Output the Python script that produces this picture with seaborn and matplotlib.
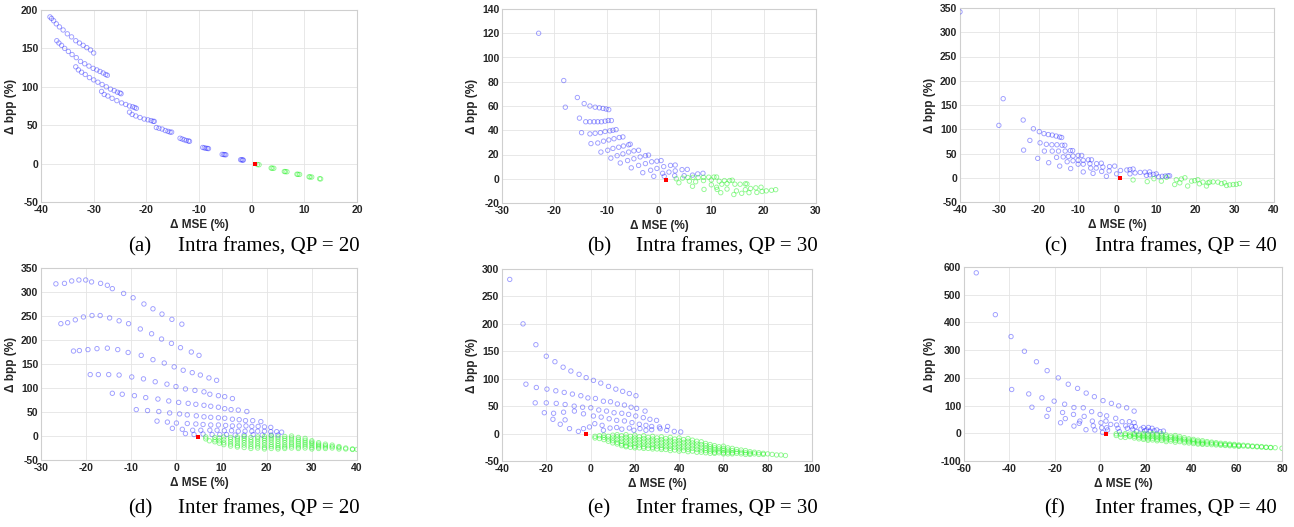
import matplotlib
matplotlib.use("Agg")
import matplotlib.pyplot as plt
import seaborn as sns

# ---- (a) Intra frames, QP = 20 ----
a_blue_x = [-38.3, -38.0, -37.6, -37.1, -36.5, -35.8, -35.0, -34.2, -33.4, -32.7, -32.0, -31.3, -30.6, -30.0,
            -37.0, -36.6, -36.1, -35.5, -34.8, -34.1, -33.3, -32.5, -31.7, -30.9, -30.1, -29.4, -28.8, -28.2, -27.7, -27.4,
            -33.4, -32.9, -32.3, -31.6, -30.8, -30.0, -29.2, -28.4, -27.6, -26.8, -26.1, -25.5, -25.0, -24.8,
            -28.5, -28.0, -27.3, -26.5, -25.6, -24.7, -23.9, -23.2, -22.6, -22.2, -21.9,
            -23.2, -22.7, -22.0, -21.2, -20.4, -19.7, -19.1, -18.7, -18.5,
            -18.1, -17.6, -17.0, -16.4, -15.9, -15.5, -15.2,
            -13.6, -13.2, -12.8, -12.4, -12.0, -11.8,
            -9.3, -9.0, -8.7, -8.4, -8.2,
            -5.6, -5.3, -5.1, -4.9,
            -2.1, -1.9, -1.7, -1.6]
a_blue_y = [191, 189, 186, 182, 178, 174, 169, 165, 160, 157, 154, 151, 148, 144,
            160, 157, 154, 150, 146, 142, 138, 133, 130, 127, 124, 122, 120, 118, 116, 115,
            126, 122, 119, 116, 112, 109, 106, 103, 100, 97, 95, 93, 92, 91,
            94, 90, 88, 85, 82, 79, 77, 75, 74, 73, 72,
            67, 64, 62, 60, 58, 57, 56, 55, 55,
            47, 46, 45, 43, 42, 41, 41,
            33, 32, 31, 30, 29.5, 29,
            21, 20.5, 20, 19.8, 19.5,
            12, 11.8, 11.6, 11.5,
            5, 4.9, 4.7, 4.6]
a_green_x = [1.1, 1.4, 3.7, 3.9, 4.2, 6.2, 6.4, 6.7, 8.6, 8.8, 9.1, 10.9, 11.1, 11.4, 12.9, 13.1]
a_green_y = [-1.3, -1.5, -5.8, -6.0, -6.1, -10.3, -10.5, -10.6, -13.8, -14.0, -14.1, -17.2, -17.4, -17.5, -19.7, -19.9]
a_red = (0.6, -1.0)

# ---- (b) Intra frames, QP = 30 ----
b_blue_x = [-23.0, -18.2, -17.9, -15.6, -15.2, -14.8,
            -14.3, -13.2, -12.2, -11.4, -10.7, -10.1, -9.6,
            -14.0, -13.2, -12.4, -11.7, -11.0, -10.3, -9.7, -9.1,
            -13.2, -12.2, -11.2, -10.3, -9.4, -8.8, -8.2,
            -13.0, -11.7, -10.6, -9.6, -8.6, -7.6, -6.9,
            -11.1, -9.8, -8.8, -7.7, -6.8, -5.8, -5.5,
            -9.2, -8.0, -6.9, -5.8, -4.8, -3.9,
            -7.4, -6.0, -4.8, -3.6, -2.6, -2.0,
            -5.3, -3.9, -2.6, -1.4, -0.4, 0.4,
            -3.1, -1.6, -0.4, 0.9, 2.2, 3.1,
            -1.0, 0.7, 1.9, 3.1, 4.4, 5.4,
            1.0, 3.0, 4.8, 6.4, 7.4, 8.4]
b_blue_y = [120, 81, 59, 67, 50, 38,
            62, 60, 59, 58.5, 58, 57.5, 57,
            47, 47, 47, 47, 47, 47.5, 48, 48,
            37, 37.5, 38, 39, 39.5, 40, 40.5,
            29, 29.5, 31, 32, 33, 34, 34.5,
            22, 23.5, 25, 26, 27, 28, 28.5,
            17, 19, 20.5, 22, 23, 23.5,
            13, 15, 16.5, 18, 19, 19.5,
            9, 11, 12.5, 14, 14.5, 15,
            5, 7, 8.5, 10, 11, 11.3,
            2, 4.5, 5.5, 6.5, 7.5, 7.7,
            2, 2.5, 2.5, 3, 4, 4.5]
b_green_x = [3.3, 4.5, 5.5, 6.5, 7.5, 8.5, 9.5, 10.5, 11.0,
             3.8, 5.8, 7.0, 8.5, 10.0, 11.5, 12.5, 13.5, 14.0,
             6.4, 8.6, 10.0, 11.0, 12.0, 13.0, 14.5, 15.5, 16.5, 16.8,
             11.1, 11.8, 13.0, 14.3, 14.8, 15.8, 16.5, 17.5, 18.5, 19.5,
             17.2, 18.7, 19.7, 20.5, 21.5, 22.3]
b_green_y = [0, 0.5, 1, 1.2, 1, 1.2, 1.3, 1.4, 1.4,
             -3.3, -2, -2.5, -1.5, -1, -2, -1.5, -1.5, -1.2,
             -6.2, -8.8, -5, -7, -4.5, -4, -4.5, -4.5, -4.2, -4.3,
             -8.8, -11.5, -8.5, -13, -10, -12, -9, -8, -7.5, -7,
             -11.5, -11.3, -10.5, -10, -9.5, -9]
b_red = (1.3, -0.8)

# ---- (c) Intra frames, QP = 40 ----
c_blue_x = [-40.0, -29.0, -30.1, -23.9, -23.8, -21.3, -22.2, -20.2, -17.4, -14.6, -11.8, -8.6, -6.1, -2.7, -0.1,
            -19.8, -18.6, -17.5, -16.5, -15.5, -14.6, -14.1,
            -19.6, -18.0, -16.6, -15.3, -14.0, -13.3,
            -18.5, -16.5, -14.9, -13.2, -11.9, -11.3,
            -15.4, -13.7, -12.4, -11.2, -9.9, -9.0,
            -12.7, -11.2, -9.9, -8.6, -7.3, -6.5,
            -9.9, -8.6, -6.9, -5.2, -4.0,
            -6.7, -5.3, -3.6, -1.9, -0.6,
            -3.9, -2.0, 0.9, 2.5, 3.3, 4.1,
            3.3, 4.6, 5.9, 7.1, 8.3,
            7.5, 8.4, 9.3, 10.0,
            10.6, 11.5, 12.3, 13.0, 13.4]
c_blue_y = [342, 163, 108, 119, 57, 101, 77, 40, 31, 24, 19, 12, 9, 3, 8,
            95, 91, 89, 88, 86, 84, 83,
            72, 69, 68, 68, 67, 67,
            55, 55, 55, 55, 56, 56,
            42, 43, 44, 45, 46, 46,
            33, 35, 36, 36, 37, 37,
            28, 28, 29, 29, 30,
            20, 20, 22, 23, 24,
            13, 14, 15, 16, 17, 18,
            8, 10, 11, 11.5, 12,
            5, 6, 7, 8,
            2, 3, 3.5, 4, 4]
c_green_x = [4.1, 7.7, 9.4, 11.3, 12.6, 14.7, 15.1, 16.0, 16.4, 17.3, 18.0, 19.0, 19.8, 20.6, 21.0, 21.9,
             22.8, 23.2, 23.6, 24.5, 25.7, 26.6, 27.4, 27.9, 28.7, 29.6, 30.4, 31.2]
c_green_y = [-4.5, -8, -2, -7, 1, -14, -4, -10.5, -2.5, 0, -17, -7, -6, -4, -12.5, -9,
             -17, -10.5, -9, -8.5, -9, -12, -10.5, -16, -14.7, -14, -13.5, -12]
c_red = (0.8, -1.0)

# ---- (d) Inter frames, QP = 20 ----
d_blue_x = [-26.7, -24.8, -23.2, -21.6, -20.1, -18.8, -16.8, -15.3, -14.2, -11.7, -9.6, -7.2, -5.2, -3.2, -1.0, 1.2,
            -25.6, -24.1, -22.4, -20.6, -18.7, -16.9, -14.8, -12.7, -10.6, -8.0, -5.5, -3.3, -1.1, 0.9, 3.3, 5.0,
            -22.8, -21.5, -19.6, -17.6, -15.3, -13.0, -10.7, -7.8, -5.2, -2.7, -0.5, 1.5, 3.5, 5.3, 7.2, 8.9,
            -19.1, -17.3, -15.0, -12.7, -9.9, -7.3, -4.7, -2.1, -0.1, 2.0, 4.1, 6.1, 7.4, 9.3, 10.7, 12.4,
            -14.2, -12.0, -9.3, -6.8, -4.1, -1.7, 0.5, 2.6, 4.3, 6.1, 7.6, 9.3, 10.7, 12.1, 13.7, 15.6,
            -8.9, -6.4, -3.9, -1.5, 0.7, 2.4, 4.4, 6.1, 7.6, 9.3, 10.7, 12.4, 13.9, 15.3, 16.9, 18.7,
            -4.3, -2.0, 0.0, 2.4, 4.3, 5.9, 7.6, 9.3, 10.9, 12.4, 13.9, 15.4, 16.7, 18.1, 19.5, 20.9,
            -0.9, 1.3, 3.6, 5.4, 7.4, 9.0, 10.6, 12.2, 13.7, 15.2, 16.7, 18.0, 19.5, 20.9, 22.2, 23.3,
            2.0, 3.9, 5.9, 7.9, 9.6, 11.1, 13.0, 15.0, 17.0, 19.0, 21.0, 22.5]
d_blue_y = [317, 318, 323, 325, 325, 321, 318, 314, 307, 297, 288, 275, 265, 254, 243, 233,
            234, 236, 242, 248, 251, 251, 246, 240, 234, 223, 213, 202, 193, 184, 175, 168,
            177, 178, 180, 182, 183, 180, 174, 168, 159, 152, 144, 137, 132, 127, 121, 116,
            128, 128, 128, 127, 123, 119, 113, 108, 103, 98, 95, 92, 87, 84, 82, 78,
            89, 87, 84, 80, 77, 73, 70, 68, 66, 64, 62, 60, 57, 55, 54, 51,
            55, 53, 51, 48, 46, 44, 42, 40, 39, 38, 37, 35, 34, 32, 32, 30,
            31, 29, 27, 26, 25, 24, 23, 23, 22, 21, 21, 21, 20, 20, 19, 18,
            16, 14, 12, 12, 12, 12, 11, 11, 10, 10, 10, 10, 10, 9, 9, 8,
            5, 3, 4, 3, 3, 3, 2, 2, 3, 2, 2, 2]
d_green_x = [6.5, 6.5, 7.3, 8.5, 8.5, 8.5, 9.5, 9.5, 9.5, 10.5, 10.5, 10.5, 10.5,
             12.0, 12.0, 12.0, 12.0, 12.0, 13.5, 13.5, 13.5, 13.5, 13.5, 13.5,
             15.0, 15.0, 15.0, 15.0, 15.0, 15.0, 16.5, 16.5, 16.5, 16.5, 16.5, 16.5,
             18.0, 18.0, 18.0, 18.0, 18.0, 18.0, 19.5, 19.5, 19.5, 19.5, 19.5, 19.5, 19.5,
             21.0, 21.0, 21.0, 21.0, 21.0, 21.0, 21.0, 22.5, 22.5, 22.5, 22.5, 22.5, 22.5, 22.5,
             24.0, 24.0, 24.0, 24.0, 24.0, 24.0, 24.0, 25.5, 25.5, 25.5, 25.5, 25.5, 25.5, 25.5,
             27.0, 27.0, 27.0, 27.0, 27.0, 27.0, 27.0, 28.5, 28.5, 28.5, 28.5, 28.5, 28.5,
             30.0, 30.0, 30.0, 30.0, 30.0, 30.0, 31.5, 31.5, 31.5, 31.5, 31.5,
             33.0, 33.0, 33.0, 33.0, 34.5, 34.5, 34.5, 36.0, 36.0, 36.0, 37.5, 37.5, 39.0, 39.0, 40.0]
d_green_y = [-2, -6, -10, -3, -8, -12, -4, -10, -15, -2, -8, -14, -18,
             -3, -7, -12, -17, -21, -2, -6, -10, -15, -20, -23,
             -1, -5, -9, -14, -19, -24, -3, -8, -12, -17, -22, -26,
             -2, -6, -11, -16, -21, -25, -1, -5, -9, -14, -19, -24, -27,
             0, -4, -8, -13, -18, -22, -26, -2, -6, -11, -16, -20, -24, -27,
             -1, -5, -9, -14, -19, -23, -26, 0, -4, -8, -13, -17, -21, -25,
             -3, -7, -11, -15, -19, -23, -26, -5, -9, -13, -17, -21, -25,
             -10, -13, -16, -20, -24, -27, -14, -17, -20, -23, -26,
             -17, -20, -23, -26, -19, -22, -25, -22, -24, -27, -25, -27, -27, -28, -28]
d_red = (4.8, -2.5)

# ---- (e) Inter frames, QP = 30 ----
e_blue_x = [-36.5, -30.5,
            -24.7, -20.0, -16.1, -12.4, -8.9, -5.2, -2.0, 1.3, 4.6, 8.1, 11.4, 14.5, 17.5, 20.5,
            -29.2, -24.5, -19.7, -15.7, -11.9, -8.2, -4.4, -1.2, 2.2, 5.8, 9.0, 12.1, 15.3, 18.3, 20.8, 24.6,
            -25.0, -20.0, -15.5, -11.5, -7.4, -3.6, 0.1, 3.7, 7.2, 10.6, 14.1, 17.2, 20.4, 23.8, 26.8, 29.8,
            -20.9, -16.7, -12.2, -7.3, -3.2, 1.3, 4.8, 8.4, 11.8, 15.3, 18.7, 22.0, 25.0, 27.6, 31.1, 34.8,
            -17.0, -13.7, -11.5, -9.5, -5.5, -3.2, -0.5, 1.9, 5.2, 5.8, 8.8, 11.8, 14.1, 17.5, 19.6, 22.3,
            25.0, 27.6, 31.4, 34.4, 37.8, 40.7]
e_blue_y = [281, 200,
            162, 141, 131, 121, 114, 108, 102, 97, 92, 86, 81, 77, 73, 69,
            90, 84, 81, 78, 75, 72, 69, 65, 64, 59, 58, 54, 52, 48, 46, 41,
            56, 56, 55, 53, 50, 48, 47, 43, 41, 38, 37, 35, 32, 29, 26, 24,
            38, 37, 39, 41, 36, 32, 30, 27, 24, 23, 20, 17, 15, 13, 12, 13,
            26, 17, 25, 9, 4, 9, 12, 18, 15, 6, 10, 11, 8, 10, 6, 9,
            6, 7, 9, 6, 4, 3]
e_green_x = [2, 2, 4, 4, 6, 6, 6, 8, 8, 8, 10, 10, 10, 10, 12, 12, 12, 12, 12,
             14, 14, 14, 14, 14, 16, 16, 16, 16, 16, 16, 18, 18, 18, 18, 18,
             20, 20, 20, 20, 20, 20, 22, 22, 22, 22, 22, 24, 24, 24, 24, 24, 24,
             26, 26, 26, 26, 26, 28, 28, 28, 28, 28, 28, 30, 30, 30, 30, 30,
             32, 32, 32, 32, 32, 32, 34, 34, 34, 34, 34, 36, 36, 36, 36, 36, 36,
             38, 38, 38, 38, 38, 40, 40, 40, 40, 40, 40, 42, 42, 42, 42, 42,
             44, 44, 44, 44, 44, 44, 46, 46, 46, 46, 46, 48, 48, 48, 48, 48,
             50, 50, 50, 50, 50, 52, 52, 52, 52, 52, 54, 54, 54, 54, 54, 56, 56, 56, 56, 56,
             58, 58, 58, 58, 60, 60, 60, 60, 60, 62, 62, 62, 62, 64, 64, 64, 64,
             66, 66, 66, 68, 68, 68, 70, 70, 70, 72, 72, 72, 74, 74, 76, 76, 78, 78,
             80, 82, 84, 86, 88]
e_green_y = [-5, -8, -4, -9, -3, -7, -11, -5, -10, -14, -3, -8, -13, -17, -2, -6, -11, -16, -19,
             -4, -9, -14, -19, -22, -2, -7, -12, -17, -22, -24, -5, -10, -15, -20, -25,
             -3, -8, -13, -18, -23, -26, -6, -11, -16, -21, -26, -4, -9, -14, -19, -24, -27,
             -7, -12, -17, -22, -27, -5, -10, -15, -20, -25, -28, -8, -13, -18, -23, -28,
             -6, -11, -16, -21, -26, -29, -9, -14, -19, -24, -29, -7, -12, -17, -22, -27, -31,
             -10, -15, -20, -25, -30, -8, -13, -18, -23, -28, -32, -11, -16, -21, -26, -31,
             -9, -14, -19, -24, -29, -33, -12, -17, -22, -27, -32, -14, -19, -24, -29, -34,
             -15, -20, -25, -30, -34, -18, -22, -27, -31, -35, -20, -24, -28, -32, -36, -22, -26, -30, -34, -36,
             -24, -28, -32, -35, -23, -27, -31, -35, -37, -26, -30, -34, -37, -27, -31, -35, -37,
             -29, -33, -36, -30, -34, -37, -31, -35, -38, -33, -36, -38, -34, -37, -35, -38, -36, -38,
             -37, -38, -39, -39, -40]
e_red = (-2.0, -1.6)

# ---- (f) Inter frames, QP = 40 ----
f_blue_x = [-54.6, -46.2, -39.3, -33.4, -28.1, -23.4, -18.5, -14.1, -10.0, -6.2, -2.6, 1.2, 4.9, 8.1, 11.6, 14.9,
            -39.0, -31.5, -30.1, -25.7, -22.8, -23.5, -20.3, -17.5, -16.6, -15.7, -15.4, -11.6, -11.8, -11.6,
            -9.0, -9.3, -7.5, -7.1, -6.3, -3.8, -3.5, -3.1, -2.4, -0.1, 0.3, 0.6, 1.0, 2.8, 2.5, 2.8, 3.2,
            4.6, 6.8, 7.2, 7.8, 8.4, 9.6, 11.2, 11.9, 12.8, 13.8, 14.3, 14.9, 15.4, 16.0, 17.9, 19.0, 19.6,
            20.4, 21.2, 21.9, 22.8, 23.7, 24.9, 26.3, 27.8]
f_blue_y = [579, 428, 349, 296, 258, 226, 200, 177, 162, 145, 132, 118, 108, 99, 92, 80,
            158, 142, 94, 128, 86, 61, 116, 38, 75, 105, 53, 93, 68, 26,
            44, 36, 92, 61, 13, 78, 44, 27, 12, 68, 38, 20, 3, 63, 44, 20, 12,
            32, 54, 30, 18, 6, 42, 27, 18, 42, 24, 15, 38, 24, 6, 15, 21, 9,
            12, 21, 8, 18, 9, 12, 6, 8]
f_green_x = [7, 7, 9, 9, 11, 11, 11, 13, 13, 13, 15, 15, 15, 15, 17, 17, 17, 17,
             19, 19, 19, 19, 19, 21, 21, 21, 21, 21, 23, 23, 23, 23, 23, 25, 25, 25, 25, 25,
             27, 27, 27, 27, 27, 29, 29, 29, 29, 29, 31, 31, 31, 31, 33, 33, 33, 33, 33,
             35, 35, 35, 35, 37, 37, 37, 37, 39, 39, 39, 39, 41, 41, 41, 41, 43, 43, 43, 43,
             45, 45, 45, 45, 47, 47, 47, 49, 49, 49, 51, 51, 51, 53, 53, 53, 55, 55, 55,
             57, 57, 57, 59, 59, 59, 61, 61, 61, 63, 63, 65, 65, 67, 67, 69, 69, 71, 71,
             73, 73, 75, 75, 77, 80]
f_green_y = [-2, -8, -4, -14, -1, -6, -15, -3, -9, -12, -1, -5, -11, -17, -3, -8, -14, -20,
             -1, -6, -11, -17, -22, -3, -9, -14, -20, -25, -1, -6, -12, -18, -24, -4, -10, -16, -22, -27,
             -2, -8, -14, -20, -26, -6, -12, -18, -24, -30, -10, -16, -22, -28, -8, -14, -20, -26, -32,
             -12, -18, -24, -30, -16, -22, -28, -34, -20, -25, -30, -35, -22, -27, -32, -37, -25, -30, -35, -39,
             -27, -32, -37, -40, -30, -35, -40, -32, -36, -41, -34, -38, -42, -36, -40, -43, -37, -41, -44,
             -39, -42, -45, -40, -43, -46, -42, -45, -47, -43, -46, -44, -47, -46, -48, -47, -49, -48, -50,
             -50, -51, -51, -52, -52, -54]
f_red = (2.5, -3.0)

# axis limits and ticks per panel
x_ticks = {
    "a": [-40, -30, -20, -10, 0, 10, 20],
    "b": [-30, -20, -10, 0, 10, 20, 30],
    "c": [-40, -30, -20, -10, 0, 10, 20, 30, 40],
    "d": [-30, -20, -10, 0, 10, 20, 30, 40],
    "e": [-40, -20, 0, 20, 40, 60, 80, 100],
    "f": [-60, -40, -20, 0, 20, 40, 60, 80],
}
y_ticks = {
    "a": [-50, 0, 50, 100, 150, 200],
    "b": [-20, 0, 20, 40, 60, 80, 100, 120, 140],
    "c": [-50, 0, 50, 100, 150, 200, 250, 300, 350],
    "d": [-50, 0, 50, 100, 150, 200, 250, 300, 350],
    "e": [-50, 0, 50, 100, 150, 200, 250, 300],
    "f": [-100, 0, 100, 200, 300, 400, 500, 600],
}
captions = {
    "a": "Intra frames, QP = 20", "b": "Intra frames, QP = 30", "c": "Intra frames, QP = 40",
    "d": "Inter frames, QP = 20", "e": "Inter frames, QP = 30", "f": "Inter frames, QP = 40",
}

panels = {
    "a": (a_blue_x, a_blue_y, a_green_x, a_green_y, a_red),
    "b": (b_blue_x, b_blue_y, b_green_x, b_green_y, b_red),
    "c": (c_blue_x, c_blue_y, c_green_x, c_green_y, c_red),
    "d": (d_blue_x, d_blue_y, d_green_x, d_green_y, d_red),
    "e": (e_blue_x, e_blue_y, e_green_x, e_green_y, e_red),
    "f": (f_blue_x, f_blue_y, f_green_x, f_green_y, f_red),
}

# pixel boxes (left, top, right, bottom) and caption anchors
W, H = 1294, 527
boxes = {
    "a": (41, 10, 357, 202), "b": (502, 9, 816, 203), "c": (960, 8, 1274, 202),
    "d": (41, 268, 357, 460), "e": (502, 269, 812, 461), "f": (964, 267, 1282, 461),
}
cap_pos = {
    "a": (128, 175, 360, 247), "b": (587, 634, 818, 247), "c": (1044, 1092, 1277, 247),
    "d": (128, 175, 360, 509), "e": (587, 634, 818, 509), "f": (1044, 1092, 1277, 509),
}

sns.set_theme(style="whitegrid")
plt.rcParams["font.family"] = ["Liberation Sans", "DejaVu Sans"]

fig = plt.figure(figsize=(W / 100, H / 100), dpi=100)

for key, (bx, by, gx, gy, red) in panels.items():
    l, t, r, b = boxes[key]
    ax = fig.add_axes([l / W, 1 - b / H, (r - l) / W, (b - t) / H])
    sns.scatterplot(x=bx, y=by, ax=ax, s=10, marker="o", facecolor="none",
                    edgecolor=(0.15, 0.15, 1.0, 0.45), linewidth=0.65, legend=False, zorder=3)
    sns.scatterplot(x=gx, y=gy, ax=ax, s=10, marker="o", facecolor="none",
                    edgecolor=(0.15, 0.95, 0.15, 0.5), linewidth=0.65, legend=False, zorder=3)
    sns.scatterplot(x=[red[0]], y=[red[1]], ax=ax, s=7, marker="s", color="red",
                    linewidth=0, legend=False, zorder=4)
    xt, yt = x_ticks[key], y_ticks[key]
    ax.set_xlim(xt[0], xt[-1])
    ax.set_ylim(yt[0], yt[-1])
    ax.set_xticks(xt)
    ax.set_yticks(yt)
    ax.set_xticklabels([str(v) for v in xt], fontweight="bold")
    ax.set_yticklabels([str(v) for v in yt], fontweight="bold")
    ax.tick_params(axis="both", labelsize=7.5, colors="#262626", length=0, pad=2)
    ax.set_xlabel("\u0394 MSE (%)", fontsize=8.5, fontweight="bold", color="#262626", labelpad=3)
    ax.set_ylabel("\u0394 bpp (%)", fontsize=8.5, fontweight="bold", color="#262626", labelpad=3)
    ax.grid(True, color="#e4e4e4", linewidth=0.6)
    ax.set_facecolor("white")
    for side in ["left", "bottom", "top", "right"]:
        ax.spines[side].set_visible(True)
        ax.spines[side].set_color("#cfcfcf")
        ax.spines[side].set_linewidth(0.8)

    x0, x1, x2, yc = cap_pos[key]
    fig.text(x0 / W, 1 - yc / H, f"({key})", family="Liberation Serif", fontsize=15,
             ha="left", va="center", color="black")
    fig.text(x2 / W, 1 - yc / H, captions[key], family="Liberation Serif", fontsize=15,
             ha="right", va="center", color="black")

fig.savefig("out.png", dpi=100, facecolor="white")
